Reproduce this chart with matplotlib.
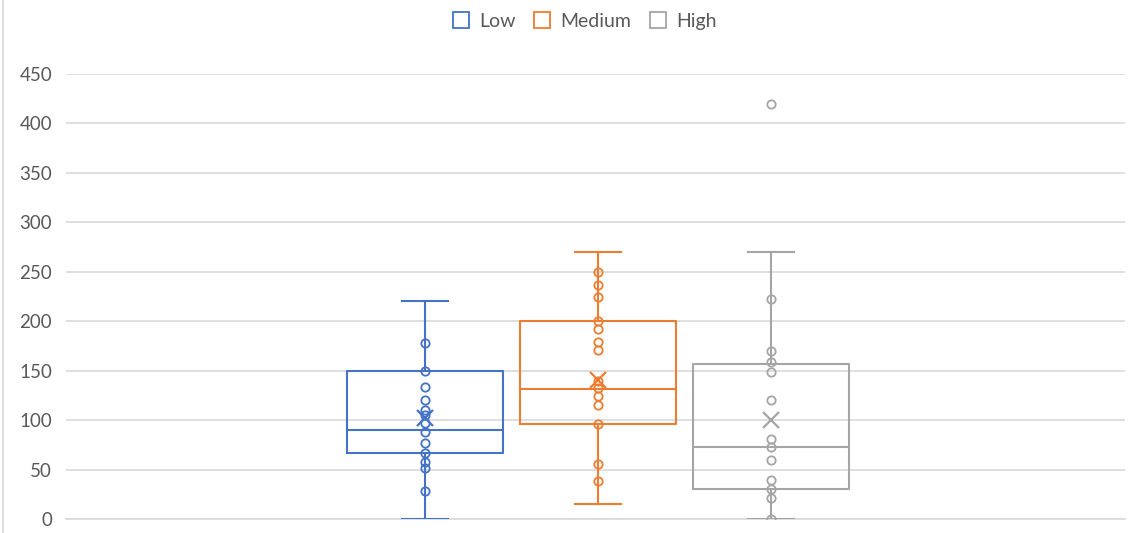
import matplotlib
matplotlib.use("Agg")
import matplotlib.pyplot as plt
from matplotlib.lines import Line2D

plt.rcParams['font.family'] = ['Lato', 'DejaVu Sans']

# ---- data ----
groups = ['Low', 'Medium', 'High']
q1_vals = [67, 96, 30]
median_vals = [90, 131, 73]
q3_vals = [150, 200, 157]
whisker_low = [0, 15, 0]
whisker_high = [220, 270, 270]
mean_vals = [102, 141, 100]
points_low = [178, 150, 133, 120, 110, 105, 97, 88, 77, 67, 58, 52, 28]
points_medium = [250, 237, 224, 200, 192, 179, 171, 140, 132, 124, 115, 96, 56, 38]
points_high = [420, 222, 170, 159, 149, 120, 81, 73, 60, 39, 30, 21, 0]
y_ticks = [0, 50, 100, 150, 200, 250, 300, 350, 400, 450]

colors = ['#4472C4', '#ED7D31', '#A5A5A5']
points = [points_low, points_medium, points_high]

fig = plt.figure(figsize=(11.35, 5.33), dpi=100)
ax = fig.add_axes([66/1135, 1-519/533, (1125-66)/1135, (519-74)/533])

positions = [0, 1, 2]
for i, g in enumerate(groups):
    stats = [dict(label=g, q1=q1_vals[i], med=median_vals[i], q3=q3_vals[i],
                  whislo=whisker_low[i], whishi=whisker_high[i], mean=mean_vals[i],
                  fliers=[])]
    c = colors[i]
    ax.bxp(stats, positions=[positions[i]], widths=0.896, capwidths=0.264,
           showmeans=False, showfliers=False, patch_artist=False,
           boxprops=dict(color=c, linewidth=1.5),
           medianprops=dict(color=c, linewidth=1.5),
           whiskerprops=dict(color=c, linewidth=1.5),
           capprops=dict(color=c, linewidth=1.5), zorder=3)
    ax.plot([positions[i]] * len(points[i]), points[i], linestyle='none', marker='o',
            markersize=6, markerfacecolor='none', markeredgecolor=c,
            markeredgewidth=1.3, zorder=4)
    ax.plot([positions[i]], [mean_vals[i]], linestyle='none', marker='x',
            markersize=11, markeredgecolor=c, markeredgewidth=1.6, zorder=5)

ax.set_xlim((66-425)/173, (1125-425)/173)
ax.set_ylim(0, 450)
ax.set_yticks(y_ticks)
ax.set_xticks([])
ax.yaxis.grid(True, color='#D9D9D9', linewidth=1.2)
ax.set_axisbelow(True)
for s in ['top', 'right', 'left']:
    ax.spines[s].set_visible(False)
ax.spines['bottom'].set_color('#D9D9D9')
ax.spines['bottom'].set_linewidth(1.2)
ax.tick_params(axis='y', length=0, labelsize=13.5, labelcolor='#595959', pad=10)

handles = [Line2D([], [], linestyle='none', marker='s', markersize=12,
                  markerfacecolor='white', markeredgecolor=c, markeredgewidth=1.3)
           for c in colors]
fig.legend(handles, groups, loc='center', bbox_to_anchor=(584/1135, 1-21/533),
           ncol=3, frameon=False, fontsize=14, handletextpad=0.45,
           columnspacing=0.85, labelcolor='#595959', handlelength=1.0)

fig.add_artist(Line2D([3/1135, 3/1135], [0, 1], color='#D9D9D9', linewidth=1.2,
                      transform=fig.transFigure))

fig.savefig('out.png', dpi=100)
